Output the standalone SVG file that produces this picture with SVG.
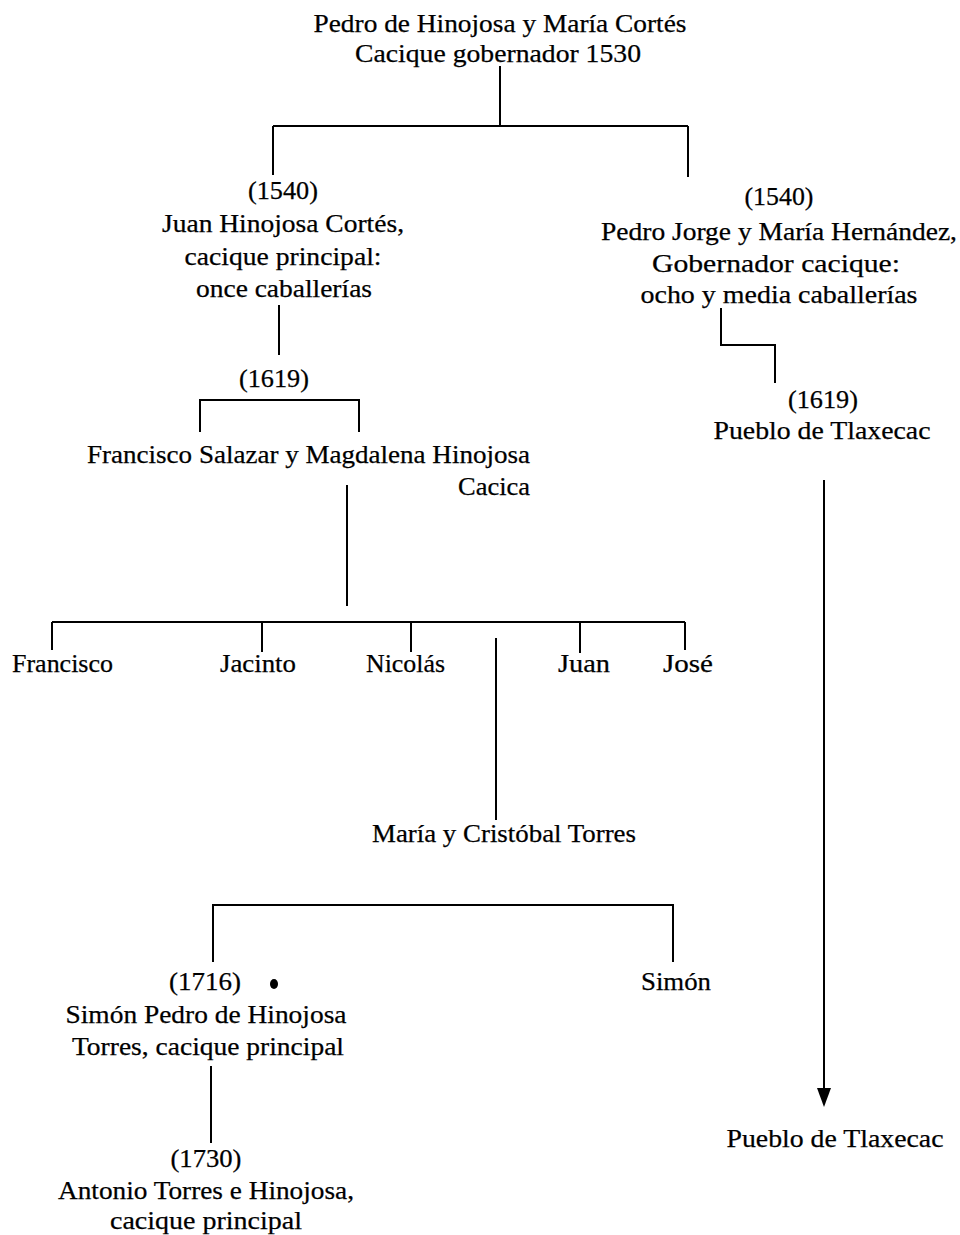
<svg xmlns="http://www.w3.org/2000/svg" width="960" height="1235" viewBox="0 0 960 1235">
  <style>
    text { font-family: "Liberation Serif", "Times New Roman", serif; font-size: 26px; fill: #000; stroke: #000; stroke-width: 0.25; }
    .c { text-anchor: middle; }
    .e { text-anchor: end; }
    .link { fill: none; stroke: #000; stroke-width: 2; }
  </style>
  <defs>
    <marker id="arrow" viewBox="0 0 19 14" refX="2" refY="7" markerWidth="19" markerHeight="14" markerUnits="userSpaceOnUse" orient="auto">
      <path d="M0 0 L19 7 L0 14 Z" fill="#000"/>
    </marker>
  </defs>
  <rect width="960" height="1235" fill="#fff"/>

  <!-- connectors -->
  <g id="connectors" class="link">
    <path d="M500 66 V126 M273 126 H688 M273 126 V175 M688 126 V177"/>
    <path d="M279 305 V355"/>
    <path d="M200 432 V400 H359 V432"/>
    <path d="M347 485 V606"/>
    <path d="M52 622 H685 M52 622 V650 M262 622 V652 M411 622 V652 M580 622 V653 M685 622 V650"/>
    <path d="M496 638 V820"/>
    <path d="M213 962 V905 H673 V962"/>
    <path d="M211 1066 V1143"/>
    <path d="M721 308 V345 H775 V383"/>
    <path d="M824 480 V1090" marker-end="url(#arrow)"/>
  </g>

  <!-- nodes -->
  <g id="n-pedro-hinojosa">
    <text class="c" x="500" y="32" textLength="373" lengthAdjust="spacingAndGlyphs">Pedro de Hinojosa y María Cortés</text>
    <text class="c" x="498" y="62" textLength="286" lengthAdjust="spacingAndGlyphs">Cacique gobernador 1530</text>
  </g>
  <g id="n-juan-hinojosa">
    <text class="c" x="283" y="199" textLength="70" lengthAdjust="spacingAndGlyphs">(1540)</text>
    <text class="c" x="283" y="232" textLength="242" lengthAdjust="spacingAndGlyphs">Juan Hinojosa Cortés,</text>
    <text class="c" x="283" y="265" textLength="197" lengthAdjust="spacingAndGlyphs">cacique principal:</text>
    <text class="c" x="284" y="297" textLength="176" lengthAdjust="spacingAndGlyphs">once caballerías</text>
  </g>
  <g id="n-pedro-jorge">
    <text class="c" x="779" y="205" textLength="69" lengthAdjust="spacingAndGlyphs">(1540)</text>
    <text class="c" x="779" y="240" textLength="356" lengthAdjust="spacingAndGlyphs">Pedro Jorge y María Hernández,</text>
    <text class="c" x="776" y="272" textLength="248" lengthAdjust="spacingAndGlyphs">Gobernador cacique:</text>
    <text class="c" x="779" y="303" textLength="277" lengthAdjust="spacingAndGlyphs">ocho y media caballerías</text>
  </g>
  <g id="n-1619-left">
    <text class="c" x="274" y="387" textLength="70" lengthAdjust="spacingAndGlyphs">(1619)</text>
  </g>
  <g id="n-salazar">
    <text class="e" x="530" y="463" textLength="443" lengthAdjust="spacingAndGlyphs">Francisco Salazar y Magdalena Hinojosa</text>
    <text class="e" x="530" y="495" textLength="72" lengthAdjust="spacingAndGlyphs">Cacica</text>
  </g>
  <g id="n-pueblo-1619">
    <text class="c" x="823" y="408" textLength="70" lengthAdjust="spacingAndGlyphs">(1619)</text>
    <text class="c" x="822" y="439" textLength="217" lengthAdjust="spacingAndGlyphs">Pueblo de Tlaxecac</text>
  </g>
  <g id="n-francisco"><text x="12" y="672" textLength="101" lengthAdjust="spacingAndGlyphs">Francisco</text></g>
  <g id="n-jacinto"><text x="220" y="672" textLength="76" lengthAdjust="spacingAndGlyphs">Jacinto</text></g>
  <g id="n-nicolas"><text x="366" y="672" textLength="79" lengthAdjust="spacingAndGlyphs">Nicolás</text></g>
  <g id="n-juan"><text x="558" y="672" textLength="52" lengthAdjust="spacingAndGlyphs">Juan</text></g>
  <g id="n-jose"><text x="663" y="672" textLength="50" lengthAdjust="spacingAndGlyphs">José</text></g>
  <g id="n-maria-cristobal">
    <text x="372" y="842" textLength="264" lengthAdjust="spacingAndGlyphs">María y Cristóbal Torres</text>
  </g>
  <g id="n-simon-pedro">
    <text class="c" x="205" y="990" textLength="72" lengthAdjust="spacingAndGlyphs">(1716)</text>
    <ellipse cx="274" cy="984" rx="4" ry="5" fill="#000"/>
    <text class="c" x="206" y="1023" textLength="281" lengthAdjust="spacingAndGlyphs">Simón Pedro de Hinojosa</text>
    <text class="c" x="208" y="1055" textLength="272" lengthAdjust="spacingAndGlyphs">Torres, cacique principal</text>
  </g>
  <g id="n-simon"><text x="641" y="990" textLength="70" lengthAdjust="spacingAndGlyphs">Simón</text></g>
  <g id="n-antonio">
    <text class="c" x="206" y="1167" textLength="71" lengthAdjust="spacingAndGlyphs">(1730)</text>
    <text class="c" x="206" y="1199" textLength="296" lengthAdjust="spacingAndGlyphs">Antonio Torres e Hinojosa,</text>
    <text class="c" x="206" y="1229" textLength="192" lengthAdjust="spacingAndGlyphs">cacique principal</text>
  </g>
  <g id="n-pueblo-final">
    <text class="c" x="835" y="1147" textLength="217" lengthAdjust="spacingAndGlyphs">Pueblo de Tlaxecac</text>
  </g>
</svg>
